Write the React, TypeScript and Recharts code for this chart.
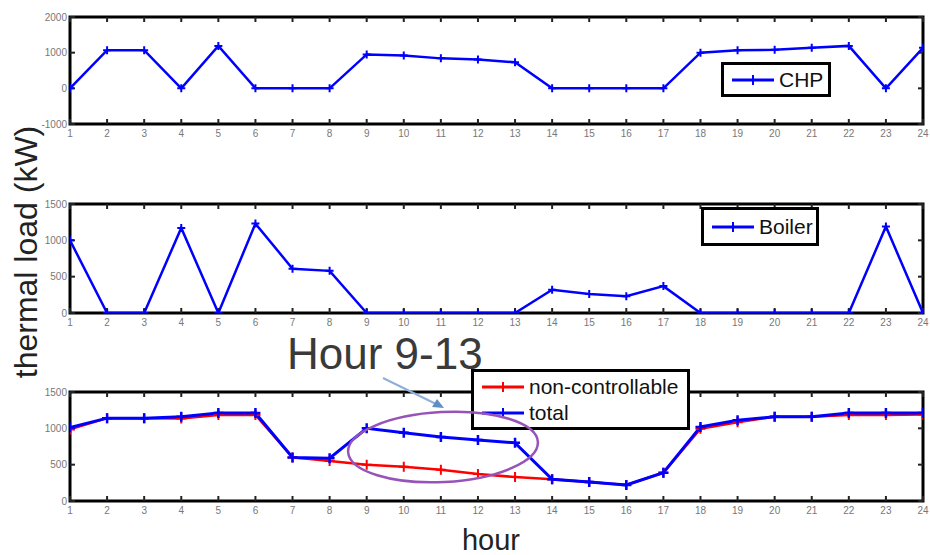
import React from 'react';
import { LineChart, Line, XAxis, YAxis, Legend, ReferenceArea, ReferenceLine } from 'recharts';

// hourly values (kW)
const hours = [1, 2, 3, 4, 5, 6, 7, 8, 9, 10, 11, 12, 13, 14, 15, 16, 17, 18, 19, 20, 21, 22, 23, 24];
const chp = [0, 1070, 1070, 0, 1190, 0, 0, 0, 950, 920, 840, 810, 730, 0, 0, 0, 0, 1000, 1070, 1080, 1135, 1190, 0, 1135];
const boiler = [1000, 0, 0, 1170, 0, 1230, 610, 580, 0, 0, 0, 0, 0, 320, 260, 230, 370, 0, 0, 0, 0, 0, 1190, 0];
const nonControllable = [985, 1140, 1140, 1135, 1185, 1185, 600, 550, 500, 470, 430, 370, 330, 300, 260, 220, 390, 995, 1085, 1160, 1160, 1185, 1185, 1190];
const total = [1010, 1140, 1140, 1160, 1210, 1210, 600, 590, 1000, 940, 880, 840, 800, 300, 260, 220, 390, 1020, 1110, 1160, 1160, 1210, 1210, 1210];

const chpTicks = [-1000, 0, 1000, 2000];
const loadTicks = [0, 500, 1000, 1500];

const chpData = hours.map((h, i) => ({ hour: h, chp: chp[i] }));
const boilerData = hours.map((h, i) => ({ hour: h, boiler: boiler[i] }));
const totalData = hours.map((h, i) => ({ hour: h, nonControllable: nonControllable[i], total: total[i] }));

const FONT = '"Liberation Sans", Arial, sans-serif';
const tickStyle = { fill: '#777', fontSize: 10, fontFamily: FONT };
const TICK_PX = 5;

const plusDot = (size: number, width: number) => (p: any) => {
    const { cx, cy, stroke, index } = p;
    if (cx == null || cy == null) return <g key={`d-${index}`} />;
    return (
        <path
            key={`d-${index}`}
            d={`M${cx - size},${cy}H${cx + size}M${cx},${cy - size}V${cy + size}`}
            stroke={stroke}
            strokeWidth={width}
            fill="none"
        />
    );
};

const LegendBox = ({ payload, width, height }: any) => (
    <div
        style={{
            width,
            height,
            boxSizing: 'border-box',
            border: '3px solid #000',
            background: '#fff',
            padding: '2px 6px',
            display: 'flex',
            flexDirection: 'column',
            justifyContent: 'center',
            gap: 4,
        }}
    >
        {(payload || []).map((item: any) => (
            <div key={item.value} style={{ display: 'flex', alignItems: 'center', height: 22 }}>
                <svg width={46} height={20} style={{ flex: 'none' }}>
                    <line x1={2} y1={10} x2={44} y2={10} stroke={item.color} strokeWidth={3} />
                    <path d="M23,5V15M18,10H28" stroke={item.color} strokeWidth={2} />
                </svg>
                <span style={{ fontFamily: FONT, fontSize: 21, color: '#111', marginLeft: 3, lineHeight: '22px' }}>
                    {item.value}
                </span>
            </div>
        ))}
    </div>
);

// MATLAB-style box: frame on all four sides, short ticks pointing inwards
const boxAxes = (domain: number[], ticks: number[], plotH: number) => {
    const [lo, hi] = domain;
    const dy = ((hi - lo) * TICK_PX) / plotH;
    const dx = (23 * TICK_PX) / 853;
    const seg = (key: string, a: any, b: any) => (
        <ReferenceLine key={key} segment={[a, b]} stroke="#222" strokeWidth={2} ifOverflow="visible" />
    );
    return [
        <XAxis
            key="xb"
            dataKey="hour"
            type="number"
            domain={[1, 24]}
            ticks={hours}
            interval={0}
            height={16}
            tickSize={-5}
            tickMargin={11}
            axisLine={false}
            tickLine={false}
            tick={tickStyle}
            allowDataOverflow
        />,
        <YAxis
            key="yl"
            type="number"
            domain={domain}
            ticks={ticks}
            interval={0}
            width={70}
            tickSize={-5}
            tickMargin={8}
            axisLine={false}
            tickLine={false}
            tick={tickStyle}
            allowDataOverflow
        />,
        ...hours.map((h) => seg(`tb${h}`, { x: h, y: lo }, { x: h, y: lo + dy })),
        ...hours.map((h) => seg(`tt${h}`, { x: h, y: hi }, { x: h, y: hi - dy })),
        ...ticks.map((t) => seg(`tl${t}`, { x: 1, y: t }, { x: 1 + dx, y: t })),
        ...ticks.map((t) => seg(`tr${t}`, { x: 24, y: t }, { x: 24 - dx, y: t })),
        <ReferenceArea
            key="frame"
            x1={1}
            x2={24}
            y1={lo}
            y2={hi}
            stroke="#000"
            strokeWidth={3}
            fill="none"
            fillOpacity={0}
            ifOverflow="visible"
        />,
    ];
};

const margin = { top: 17, right: 7, bottom: 0, left: 0 };

export default function App() {
    return (
        <div style={{ position: 'absolute', left: 0, top: 0, width: 930, height: 555, background: '#fff', overflow: 'hidden' }}>
            <div style={{ position: 'absolute', left: 0, top: 0 }}>
                <LineChart width={930} height={140} data={chpData} margin={margin}>
                    {boxAxes([-1000, 2000], chpTicks, 107)}
                    <Legend
                        verticalAlign="middle"
                        align="center"
                        layout="horizontal"
                        wrapperStyle={{ left: 721, top: 62, width: 110, height: 35 }}
                        content={(p: any) => <LegendBox payload={p.payload} width={110} height={35} />}
                    />
                    <Line
                        dataKey="chp"
                        name="CHP"
                        stroke="#0000ff"
                        strokeWidth={2.5}
                        dot={plusDot(4, 2)}
                        isAnimationActive={false}
                    />
                </LineChart>
            </div>

            <div style={{ position: 'absolute', left: 0, top: 187 }}>
                <LineChart width={930} height={142} data={boilerData} margin={margin}>
                    {boxAxes([0, 1500], loadTicks, 109)}
                    <Legend
                        verticalAlign="middle"
                        align="center"
                        layout="horizontal"
                        wrapperStyle={{ left: 701, top: 20, width: 118, height: 39 }}
                        content={(p: any) => <LegendBox payload={p.payload} width={118} height={39} />}
                    />
                    <Line
                        dataKey="boiler"
                        name="Boiler"
                        stroke="#0000ff"
                        strokeWidth={2.5}
                        dot={plusDot(4, 2)}
                        isAnimationActive={false}
                    />
                </LineChart>
            </div>

            <div style={{ position: 'absolute', left: 0, top: 375 }}>
                <LineChart width={930} height={142} data={totalData} margin={margin}>
                    {boxAxes([0, 1500], loadTicks, 109)}
                    <Legend
                        verticalAlign="middle"
                        align="center"
                        layout="horizontal"
                        wrapperStyle={{ left: 471, top: -6, width: 219, height: 61 }}
                        content={(p: any) => <LegendBox payload={p.payload} width={219} height={61} />}
                    />
                    <Line
                        dataKey="nonControllable"
                        name="non-controllable"
                        stroke="#ff0000"
                        strokeWidth={2.5}
                        dot={plusDot(5, 2)}
                        isAnimationActive={false}
                    />
                    <Line
                        dataKey="total"
                        name="total"
                        stroke="#0000ff"
                        strokeWidth={3}
                        dot={plusDot(5, 2.5)}
                        isAnimationActive={false}
                    />
                </LineChart>
            </div>

            {/* axis titles and the hand-drawn annotation */}
            <svg width={930} height={555} style={{ position: 'absolute', left: 0, top: 0, pointerEvents: 'none' }}>
                <text
                    x={0}
                    y={0}
                    transform="translate(37,252) rotate(-90)"
                    textAnchor="middle"
                    fontFamily={FONT}
                    fontSize={32}
                    fill="#222"
                >
                    thermal load (kW)
                </text>
                <text x={491} y={550} textAnchor="middle" fontFamily={FONT} fontSize={29} fill="#222">
                    hour
                </text>
                <text x={287} y={369} fontFamily={FONT} fontSize={44} fill="#3a3a3a">
                    Hour 9-13
                </text>
                <line x1={383} y1={378} x2={436} y2={404} stroke="#8fb0d6" strokeWidth={2} />
                <path d="M444,408 L432,407 L437,399 Z" fill="#5e8fc4" />
                <ellipse
                    cx={443}
                    cy={447}
                    rx={95}
                    ry={35}
                    transform="rotate(-3 443 447)"
                    fill="none"
                    stroke="#9653b8"
                    strokeWidth={2.5}
                />
            </svg>
        </div>
    );
}
